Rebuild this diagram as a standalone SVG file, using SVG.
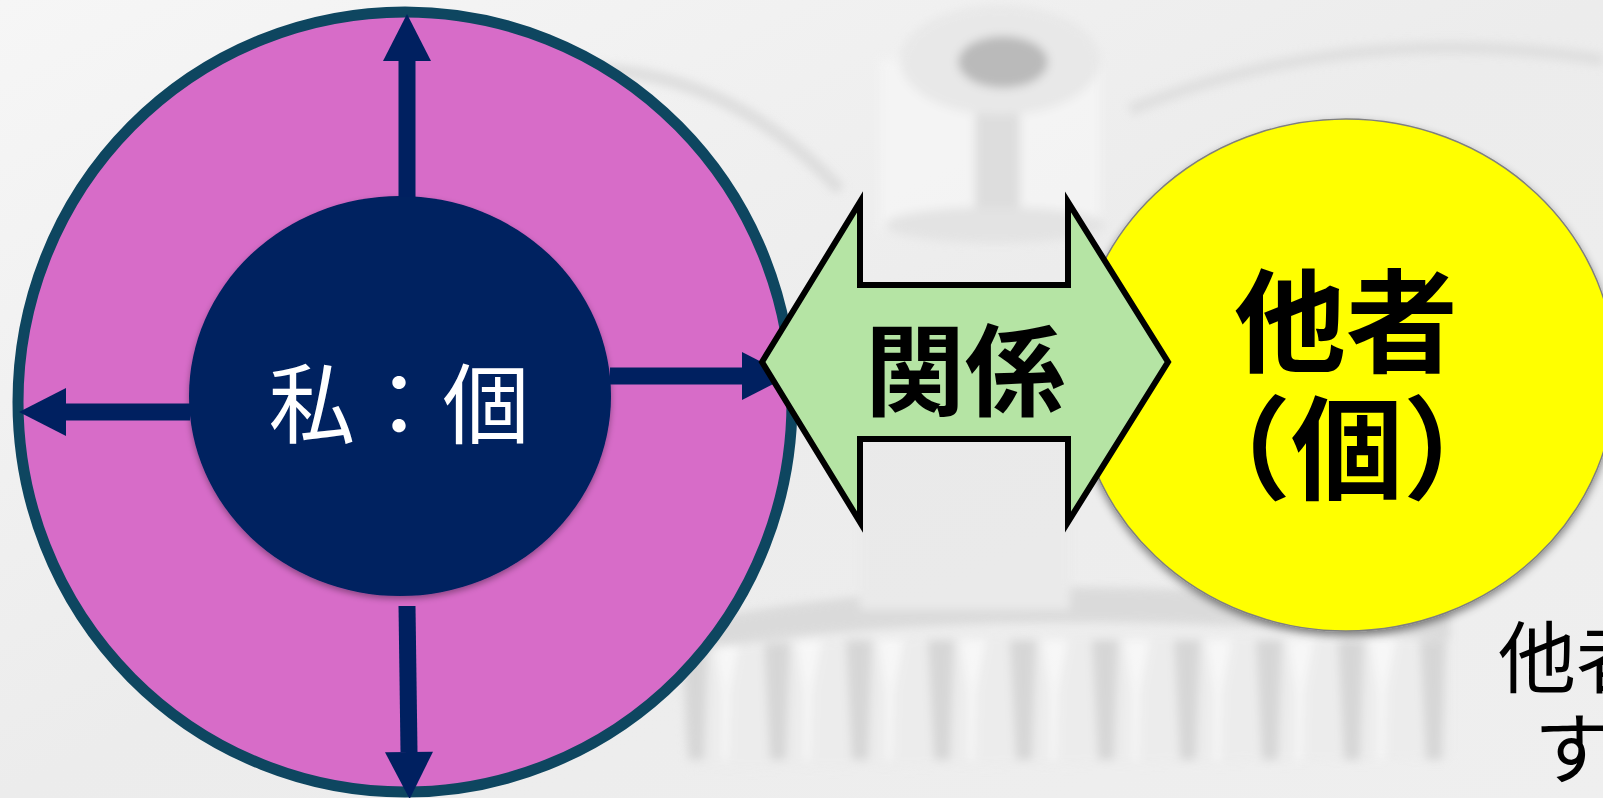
<svg xmlns="http://www.w3.org/2000/svg" width="1603" height="798" viewBox="0 0 1603 798">
  <style>
    .jp { font-family: "Noto Sans CJK JP", "Noto Sans CJK SC", sans-serif; }
    .navy { stroke: #002060; stroke-width: 17; fill: none; marker-end: url(#head); }
    .bold { font-weight: 700; }
  </style>
  <defs>
    <marker id="head" markerUnits="userSpaceOnUse" markerWidth="48" markerHeight="48" refX="0" refY="24" orient="auto" overflow="visible">
      <path d="M0,0 L47,24 L0,48 z" fill="#002060"/>
    </marker>
    <filter id="blur" x="-10%" y="-10%" width="120%" height="120%">
      <feGaussianBlur stdDeviation="5"/>
    </filter>
    <filter id="shadow" x="-10%" y="-10%" width="120%" height="125%">
      <feDropShadow dx="0" dy="4" stdDeviation="4" flood-color="#000" flood-opacity="0.45"/>
    </filter>
    <filter id="shadowSoft" x="-10%" y="-10%" width="120%" height="120%">
      <feDropShadow dx="0" dy="3" stdDeviation="3" flood-color="#000" flood-opacity="0.35"/>
    </filter>
    <linearGradient id="bg" x1="0" y1="0" x2="1" y2="1">
      <stop offset="0" stop-color="#f6f6f6"/>
      <stop offset="0.5" stop-color="#ececec"/>
      <stop offset="1" stop-color="#efefef"/>
    </linearGradient>
    <pattern id="teeth" patternUnits="userSpaceOnUse" width="82" height="140" x="676" y="630">
      <rect width="82" height="140" fill="#ececec"/>
      <path d="M6,10 L32,10 L28,130 L12,130 z" fill="#cfcfcf"/>
      <path d="M38,10 L64,10 L54,60 L52,130 L46,130 L46,60 z" fill="#fbfbfb"/>
    </pattern>
  </defs>

  <!-- background (faded gear photo approximation) -->
  <g id="background">
    <rect width="1603" height="798" fill="url(#bg)"/>
    <g filter="url(#blur)" opacity="0.75">
      <path d="M560,70 Q720,60 840,190" stroke="#d6d6d6" stroke-width="12" fill="none"/>
      <path d="M1130,110 Q1350,20 1603,60" stroke="#dadada" stroke-width="12" fill="none"/>
      <rect x="880" y="60" width="220" height="170" fill="#f6f6f6"/>
      <rect x="975" y="110" width="45" height="110" fill="#d8d8d8"/>
      <ellipse cx="1000" cy="60" rx="100" ry="55" fill="#e6e6e6"/>
      <ellipse cx="1003" cy="62" rx="45" ry="26" fill="#a9a9a9"/>
      <ellipse cx="995" cy="225" rx="110" ry="18" fill="#e0e0e0"/>
      <path d="M700,620 Q1000,560 1450,610 L1450,640 Q1000,600 700,650 z" fill="#d4d4d4"/>
      <path d="M676,650 Q1050,620 1450,640 L1450,760 L690,770 z" fill="url(#teeth)"/>
      <rect x="860" y="440" width="210" height="170" fill="#e9e9e9"/>
    </g>
  </g>

  <!-- node: self (私：個) -->
  <g id="node-self">
    <ellipse cx="405" cy="402" rx="387" ry="390" fill="#d76cc8" stroke="#0e4660" stroke-width="11"/>
    <ellipse cx="400" cy="396" rx="211" ry="200" fill="#002060" filter="url(#shadowSoft)"/>
    <text class="jp" x="399" y="437" font-size="87" fill="#ffffff" text-anchor="middle">私：個</text>
  </g>

  <!-- connectors -->
  <g id="connectors">
    <path class="navy" d="M407,197 L407,61"/>
    <path class="navy" d="M407,606 L409,752"/>
    <path class="navy" d="M190,412 L66,412"/>
    <path class="navy" d="M610,376 L742,376"/>
  </g>

  <!-- node: other (他者（個）) -->
  <g id="node-other">
    <ellipse cx="1346" cy="375" rx="270" ry="256" fill="#ffff00" stroke="#7f7f7f" stroke-width="1.5" filter="url(#shadow)"/>
    <text class="jp bold" x="1346" y="364" font-size="112" fill="#000" text-anchor="middle">他者</text>
    <text class="jp bold" x="1347" y="491" font-size="112" fill="#000" text-anchor="middle">（個）</text>
  </g>

  <!-- node: relation (関係) double arrow -->
  <g id="node-relation">
    <polygon points="762,362 860,202 860,285 1068,285 1068,202 1168,362 1068,522 1068,439 860,439 860,522" fill="#b5e4a4" stroke="#000" stroke-width="6" stroke-linejoin="miter"/>
    <text class="jp bold" x="965" y="408" font-size="100" fill="#000" text-anchor="middle">関係</text>
  </g>

  <!-- partially visible note at bottom right -->
  <g id="note">
    <text class="jp" x="1498" y="687" font-size="78" fill="#000">他者</text>
    <text class="jp" x="1534" y="778" font-size="78" fill="#000">す</text>
  </g>
</svg>
